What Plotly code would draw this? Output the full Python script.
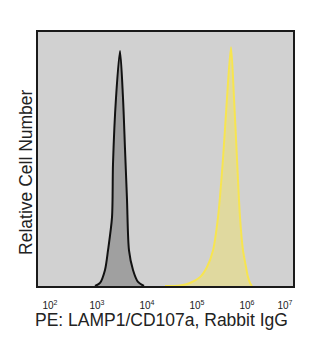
import plotly.graph_objects as go

# Isotype / control histogram (black) - log10 fluorescence, relative count
control_log = [2.96, 3.06, 3.16, 3.22, 3.30, 3.32, 3.38, 3.46, 3.52, 3.56, 3.60, 3.64, 3.72, 3.82, 3.94]
control_cnt = [0.0, 0.012, 0.063, 0.14, 0.27, 0.48, 0.74, 0.925, 0.74, 0.54, 0.34, 0.14, 0.063, 0.016, 0.0]

# LAMP1/CD107a stained histogram (yellow)
stained_log = [4.36, 4.66, 4.86, 5.06, 5.20, 5.32, 5.42, 5.52, 5.60, 5.68, 5.74, 5.80, 5.86, 5.92, 5.98, 6.02, 6.06, 6.10]
stained_cnt = [0.0, 0.002, 0.012, 0.035, 0.075, 0.14, 0.27, 0.50, 0.74, 0.94, 0.74, 0.50, 0.27, 0.14, 0.075, 0.035, 0.012, 0.0]

tick_exps = [2, 3, 4, 5, 6, 7]
tick_pos_log = [2.06, 3.0, 4.0, 5.0, 6.0, 6.76]
tick_text = ["10<sup>%d</sup>" % e for e in tick_exps]

x_title = "PE: LAMP1/CD107a, Rabbit IgG"
y_title = "Relative Cell Number"

fig = go.Figure()
fig.add_trace(go.Scatter(
    x=[10 ** v for v in control_log], y=control_cnt, mode="lines",
    line=dict(color="#111111", width=2, shape="spline", smoothing=0.8),
    fill="tozeroy", fillcolor="#a0a0a0", hoverinfo="skip"))
fig.add_trace(go.Scatter(
    x=[10 ** v for v in stained_log], y=stained_cnt, mode="lines",
    line=dict(color="#f7e550", width=2, shape="spline", smoothing=0.8),
    fill="tozeroy", fillcolor="rgba(240,225,110,0.5)", hoverinfo="skip"))

fig.update_layout(
    width=321, height=360,
    margin=dict(l=38, r=28, t=32, b=74),
    paper_bgcolor="white", plot_bgcolor="#d1d1d1",
    showlegend=False,
    font=dict(family="Liberation Sans, Arial, sans-serif", color="#222222"),
    xaxis=dict(type="log", range=[1.82, 6.92], showgrid=False, zeroline=False,
               tickvals=[10 ** v for v in tick_pos_log], ticktext=tick_text,
               ticks="", ticklabelstandoff=9,
               tickfont=dict(size=10, color="#222222"),
               showline=True, mirror=True, linecolor="#1a1a1a", linewidth=1.5),
    yaxis=dict(range=[0, 1], showgrid=False, zeroline=False, showticklabels=False,
               ticks="", showline=True, mirror=True, linecolor="#1a1a1a", linewidth=1.5),
    annotations=[
        dict(text=x_title, xref="paper", yref="paper", x=0.485, y=-0.135,
             xanchor="center", yanchor="middle", showarrow=False,
             font=dict(size=17.5, color="#222222")),
        dict(text=y_title, xref="paper", yref="paper", x=-0.05, y=0.45,
             xanchor="center", yanchor="middle", showarrow=False, textangle=-90,
             font=dict(size=17.5, color="#222222")),
    ],
)

fig.write_html("out.html")
